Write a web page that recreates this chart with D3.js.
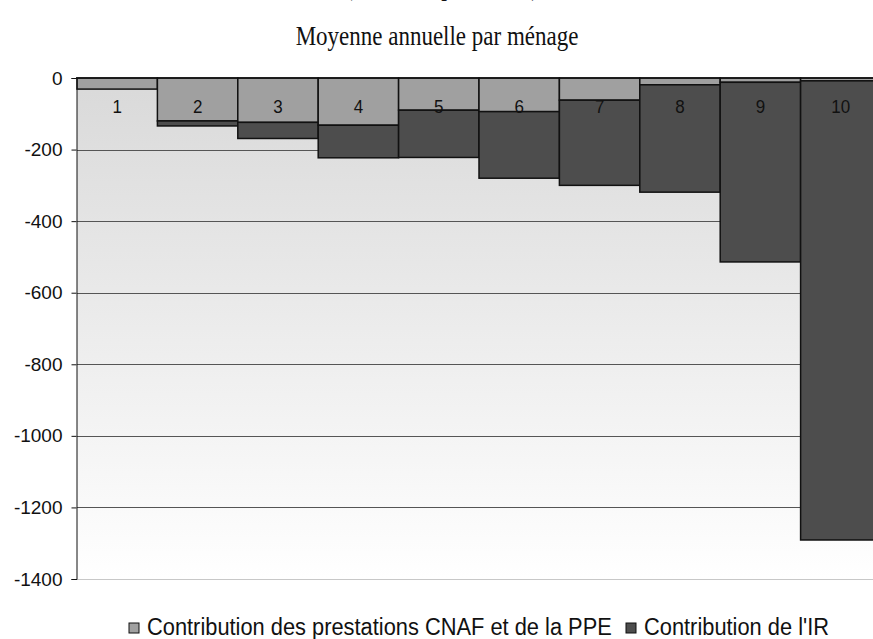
<!DOCTYPE html>
<html>
<head>
<meta charset="utf-8">
<script src="https://cdn.jsdelivr.net/npm/d3@7"></script>
<style>
  body { margin: 0; background: #fff; }
  svg { display: block; }
</style>
</head>
<body>
<div id="chart"></div>
<script>
// deciles and the two stacked (negative) contributions
const deciles = ["1", "2", "3", "4", "5", "6", "7", "8", "9", "10"];
const cnaf = [-31, -120, -124, -132, -90, -94, -62, -19, -12, -8];
const ir = [0, -14, -45, -91, -132, -186, -238, -300, -502, -1283];
const yTicks = [0, -200, -400, -600, -800, -1000, -1200, -1400];
const seriesNames = ["Contribution des prestations CNAF et de la PPE", "Contribution de l'IR"];

const width = 873;
const height = 639;
const margin = {top: 78, left: 77, right: -8, bottom: 60};

const svg = d3.select("#chart")
    .append("svg")
    .attr("width", width)
    .attr("height", height);

const x = d3.scaleBand()
    .domain(deciles)
    .range([margin.left, width - margin.right])
    .padding(0);

const y = d3.scaleLinear()
    .domain([0, -1400])
    .range([margin.top, height - margin.bottom]);

// background gradient of the plot area
const grad = svg.append("defs").append("linearGradient")
    .attr("id", "bg")
    .attr("x1", 0).attr("y1", 0).attr("x2", 0).attr("y2", 1);
grad.append("stop").attr("offset", "0%").attr("stop-color", "#d9d9d9");
grad.append("stop").attr("offset", "100%").attr("stop-color", "#ffffff");

svg.append("rect")
    .attr("x", margin.left)
    .attr("y", y(0))
    .attr("width", width - margin.right - margin.left)
    .attr("height", y(-1400) - y(0))
    .attr("fill", "url(#bg)");

// gridlines
svg.append("g")
    .selectAll("line")
    .data(yTicks.filter(d => d !== 0))
    .join("line")
    .attr("x1", margin.left)
    .attr("x2", width)
    .attr("y1", d => Math.round(y(d)) + 0.5)
    .attr("y2", d => Math.round(y(d)) + 0.5)
    .attr("stroke", d => d === -1400 ? "#c8c8c8" : "#555")
    .attr("stroke-width", 1);

// stacked bars
const stackData = deciles.map((d, i) => ({decile: d, cnaf: cnaf[i], ir: ir[i]}));

const bars = svg.append("g");
stackData.forEach(d => {
    bars.append("rect")
        .attr("x", x(d.decile))
        .attr("y", y(0))
        .attr("width", x.bandwidth())
        .attr("height", y(d.cnaf) - y(0))
        .attr("fill", "#a0a0a0")
        .attr("stroke", "#111")
        .attr("stroke-width", 1.5);
    if (d.ir < 0) {
        bars.append("rect")
            .attr("x", x(d.decile))
            .attr("y", y(d.cnaf))
            .attr("width", x.bandwidth())
            .attr("height", y(d.cnaf + d.ir) - y(d.cnaf))
            .attr("fill", "#4d4d4d")
            .attr("stroke", "#111")
            .attr("stroke-width", 1.5);
    }
});

// decile labels
svg.append("g")
    .selectAll("text")
    .data(deciles)
    .join("text")
    .attr("transform", d => `translate(${x(d) + x.bandwidth() / 2},113) scale(1,1.12)`)
    .attr("text-anchor", "middle")
    .attr("font-family", "Liberation Sans, Arial, sans-serif")
    .attr("font-size", 17)
    .attr("fill", "#111")
    .text(d => d);

// y axis
const yAxis = svg.append("g")
    .attr("transform", `translate(${margin.left - 0.5},0)`)
    .call(d3.axisLeft(y).tickValues(yTicks).tickSize(5).tickPadding(9).tickFormat(d3.format("d")));
yAxis.select(".domain").attr("stroke", "#111");
yAxis.selectAll(".tick line").attr("stroke", "#111");
yAxis.selectAll(".tick text")
    .attr("font-family", "Liberation Sans, Arial, sans-serif")
    .attr("font-size", 19)
    .attr("fill", "#111")
    .text(d => d === 0 ? "0" : "-" + Math.abs(d));

// top axis line at 0
svg.append("line")
    .attr("x1", margin.left - 1)
    .attr("x2", width)
    .attr("y1", y(0))
    .attr("y2", y(0))
    .attr("stroke", "#111")
    .attr("stroke-width", 1.5);

// titles (first line is cut by the top edge, as in the source)
svg.append("text")
    .attr("transform", "translate(442,-5) scale(1,1.15)")
    .attr("text-anchor", "middle")
    .attr("font-family", "Liberation Serif, Times New Roman, serif")
    .attr("font-size", 23)
    .attr("fill", "#111")
    .text("(en euros, par décile)");

svg.append("text")
    .attr("transform", "translate(437,45) scale(1,1.15)")
    .attr("text-anchor", "middle")
    .attr("font-family", "Liberation Serif, Times New Roman, serif")
    .attr("font-size", 23)
    .attr("fill", "#111")
    .text("Moyenne annuelle par ménage");

// legend
const legend = svg.append("g")
    .attr("font-family", "Liberation Sans, Arial, sans-serif")
    .attr("font-size", 21)
    .attr("fill", "#111");
const legendX = [129, 626];
const legendColors = ["#a0a0a0", "#4d4d4d"];
seriesNames.forEach((name, i) => {
    legend.append("rect")
        .attr("x", legendX[i])
        .attr("y", 623)
        .attr("width", 10)
        .attr("height", 10)
        .attr("fill", legendColors[i])
        .attr("stroke", "#111")
        .attr("stroke-width", 1);
    legend.append("text")
        .attr("transform", `translate(${legendX[i] + 18},635) scale(1.04,1.15)`)
        .text(name);
});
</script>
</body>
</html>
